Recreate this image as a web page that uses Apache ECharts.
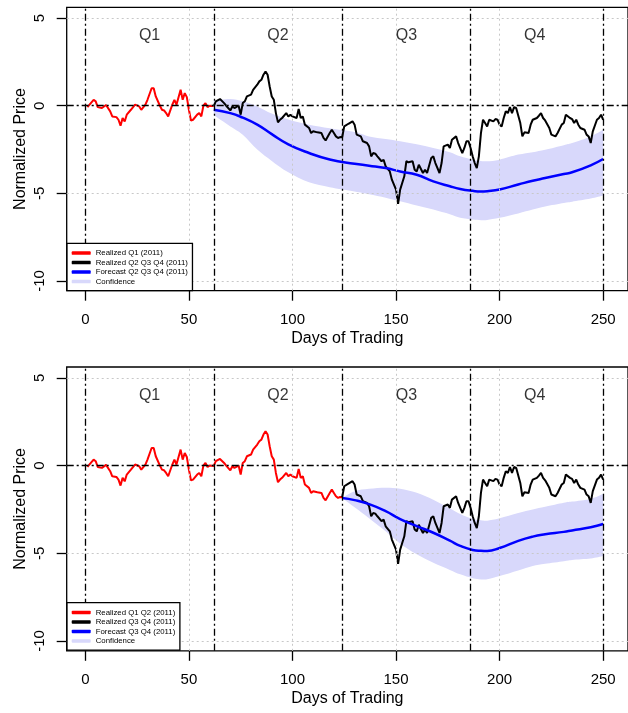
<!DOCTYPE html>
<html><head><meta charset="utf-8">
<script src="https://cdn.jsdelivr.net/npm/echarts@6/dist/echarts.min.js"></script>
<style>html,body{margin:0;padding:0;background:#fff}#c{width:628px;height:713px}</style>
</head><body><div id="c"></div>
<script>
// ---- data ----
const xTicks = [0, 50, 100, 150, 200, 250];
const yTicks = [-10, -5, 0, 5];
const quarterBounds = [0, 62, 124, 186, 250];
const quarterNames = ['Q1', 'Q2', 'Q3', 'Q4'];
const quarterCenters = [31, 93, 155, 217];
const quarterLabelY = 4;

const realDays = [1,4,5,6,8,10,12,13,15,16,17,18,19,20,22,24,26,27,29,30,32,33,34,36,37,38,39,40,42,43,44,45,46,47,48,49,50,51,52,54,55,56,57,58,59,60,62,
  63,65,67,68,70,71,72,74,75,76,77,78,80,81,83,84,85,86,87,88,89,90,91,92,93,94,95,97,98,99,100,102,103,104,105,106,108,109,110,112,114,115,116,118,119,120,121,122,123,124,
  125,127,129,130,131,133,134,136,137,138,139,140,141,143,144,145,147,148,150,151,152,154,155,156,158,159,160,161,163,164,165,167,168,169,171,172,173,175,176,177,179,180,182,183,184,185,186,187,188,189,190,191,192,193,194,195,197,198,199,200,201,202,203,204,205,206,207,208,210,211,212,214,215,216,218,219,220,221,222,224,225,227,228,230,231,232,234,235,236,237,238,239,241,242,243,244,245,247,248,249,250];
const realPrice = [-0.08,0.34,0.25,-0.08,-0.13,0.04,-0.32,-0.61,-0.65,-0.8,-1.14,-0.7,-0.9,-0.51,-0.23,0.06,-0.04,-0.23,0.06,0.34,1.0,1.0,0.53,0,-0.23,-0.27,-0.42,-0.61,0.06,0.34,0.06,0.49,0.91,0.34,0.72,0.49,-0.23,-0.84,-0.8,-0.51,-0.42,-0.61,0,0.15,-0.08,0,-0.02,
  0.25,0.38,0.15,0,-0.27,-0.04,-0.13,0,-0.51,0.15,0.25,0.53,0.63,0.91,1.2,1.39,1.48,1.77,1.96,1.77,1.1,0.53,0.34,-0.42,-0.95,-0.8,-0.7,-0.42,-0.61,-0.51,-0.61,-0.7,-0.19,-0.7,-0.61,-1.08,-1.27,-1.56,-1.46,-1.52,-1.56,-1.84,-1.98,-1.56,-1.37,-1.56,-1.75,-1.84,-1.79,-1.8,
  -1.18,-1.03,-0.89,-1.08,-1.65,-1.75,-2.03,-2.13,-2.32,-2.89,-2.7,-2.74,-2.89,-3.17,-3.08,-3.46,-3.75,-4.22,-4.79,-5.6,-4.79,-4.03,-3.17,-3.23,-3.17,-3.65,-3.75,-3.37,-3.84,-3.65,-3.84,-2.98,-2.89,-3.27,-3.84,-3.27,-2.32,-2.22,-2.41,-1.94,-1.75,-2.13,-2.7,-2.41,-2.03,-2.03,-2.41,-2.89,-3.27,-3.56,-2.89,-1.56,-0.8,-0.99,-1.18,-0.8,-0.89,-0.76,-0.8,-1.08,-1.18,-0.7,-0.32,-0.42,-0.08,-0.42,-0.08,-0.13,-0.99,-1.75,-1.52,-1.56,-1.08,-0.8,-0.7,-0.57,-0.42,-0.7,-0.84,-1.27,-1.65,-1.75,-1.56,-1.08,-0.99,-0.51,-0.7,-0.76,-0.99,-0.8,-1.08,-1.27,-1.37,-1.65,-1.75,-2.13,-1.46,-0.8,-0.7,-0.51,-0.8];

// forecast from end of Q1 (top panel)
const fc1Days  = [62,70,76,83,90,98,108,118,130,137,145,152,160,168,176,181,187,191,194,200,209,216,222,231,235,244,250];
const fc1Mean  = [-0.23,-0.42,-0.68,-1.08,-1.62,-2.2,-2.7,-3.07,-3.31,-3.42,-3.56,-3.75,-3.94,-4.32,-4.6,-4.75,-4.86,-4.9,-4.88,-4.78,-4.5,-4.28,-4.13,-3.9,-3.8,-3.4,-3.04];
const fc1Upper = [0.3,0.38,0.25,-0.04,-0.45,-0.78,-1.08,-1.28,-1.5,-1.75,-1.9,-2.03,-2.2,-2.41,-2.65,-2.89,-3.08,-3.15,-3.17,-3.08,-2.79,-2.65,-2.51,-2.25,-2.13,-1.75,-1.37];
const fc1Lower = [-0.55,-1.18,-1.65,-2.5,-3.15,-3.8,-4.37,-4.65,-4.89,-5.05,-5.25,-5.46,-5.7,-5.93,-6.2,-6.4,-6.5,-6.54,-6.52,-6.4,-6.15,-5.93,-5.75,-5.55,-5.48,-5.3,-5.13];

// forecast from end of Q2 (bottom panel)
const fc2Days  = [124,130,137,145,152,160,168,176,181,187,191,194,200,209,216,222,231,235,244,250];
const fc2Mean  = [-1.85,-1.97,-2.2,-2.6,-3.05,-3.45,-3.83,-4.28,-4.58,-4.81,-4.86,-4.87,-4.7,-4.29,-4.05,-3.92,-3.78,-3.7,-3.52,-3.33];
const fc2Upper = [-1.85,-1.46,-1.32,-1.26,-1.32,-1.55,-1.95,-2.45,-2.76,-3.05,-3.12,-3.14,-3.0,-2.7,-2.5,-2.35,-2.12,-2.05,-1.9,-1.61];
const fc2Lower = [-1.85,-2.38,-3.0,-3.75,-4.45,-5.06,-5.54,-5.95,-6.2,-6.42,-6.49,-6.48,-6.3,-5.98,-5.73,-5.6,-5.45,-5.38,-5.3,-5.16];

const legend1 = ['Realized Q1 (2011)', 'Realized Q2 Q3 Q4 (2011)', 'Forecast Q2 Q3 Q4 (2011)', 'Confidence'];
const legend2 = ['Realized Q1 Q2 (2011)', 'Realized Q3 Q4 (2011)', 'Forecast Q3 Q4 (2011)', 'Confidence'];

// ---- chart ----
const FONT = 'Liberation Sans, Arial, Helvetica, sans-serif';
const RED = '#ff0000', BLACK = '#000000', BLUE = '#0000ff', BAND = '#d8d8fb';
const DASHDOT = [7, 3, 2, 3];

function segment(lo, hi) {
  const out = [];
  for (let i = 0; i < realDays.length; i++) {
    if (realDays[i] >= lo && realDays[i] <= hi) out.push([realDays[i], realPrice[i]]);
  }
  return out;
}
function pairs(xs, ys) { return xs.map((x, i) => [x, ys[i]]); }

const chart = echarts.init(document.getElementById('c'), null, {renderer: 'canvas'});

function makeAxes(idx) {
  return {
    x: {
      type: 'value', gridIndex: idx, min: -9, max: 262,
      axisLine: {show: false, onZero: false},
      axisTick: {show: true, customValues: xTicks, length: 10, lineStyle: {color: '#000', width: 1.3}},
      axisLabel: {customValues: xTicks, margin: 22, fontSize: 15, color: '#000', fontFamily: FONT},
      splitLine: {show: false},
      name: 'Days of Trading', nameLocation: 'middle', nameGap: 40, nameMoveOverlap: false,
      nameTextStyle: {fontSize: 16, color: '#000', fontFamily: FONT}
    },
    y: {
      type: 'value', gridIndex: idx, min: -10.56, max: 5.62,
      axisLine: {show: false, onZero: false},
      axisTick: {show: true, customValues: yTicks, length: 10, lineStyle: {color: '#000', width: 1.3}},
      axisLabel: {customValues: yTicks, margin: 19, fontSize: 15, color: '#000', rotate: 90, fontFamily: FONT},
      splitLine: {show: false},
      name: 'Normalized Price', nameLocation: 'middle', nameGap: 38, nameMoveOverlap: false,
      nameTextStyle: {fontSize: 16, color: '#000', fontFamily: FONT}
    }
  };
}
const a1 = makeAxes(0), a2 = makeAxes(1);

function gridMarkLines() {
  const data = [];
  xTicks.forEach(v => data.push({xAxis: v, lineStyle: {color: '#c8c8c8', type: [2, 3], width: 1}}));
  yTicks.forEach(v => data.push({yAxis: v, lineStyle: {color: '#c8c8c8', type: [2, 3], width: 1}}));
  quarterBounds.forEach(v => data.push({xAxis: v, lineStyle: {color: '#000', type: DASHDOT, width: 1.3}}));
  data.push({yAxis: 0, lineStyle: {color: '#000', type: DASHDOT, width: 1.3}});
  return {silent: true, symbol: 'none', label: {show: false}, animation: false, data: data};
}

// smooth open path through pixel points (Catmull-Rom -> cubic Bezier)
function smoothPath(pts, moveFirst) {
  let d = (moveFirst ? 'M' : 'L') + pts[0][0] + ' ' + pts[0][1];
  for (let i = 0; i < pts.length - 1; i++) {
    const p0 = pts[Math.max(i - 1, 0)], p1 = pts[i], p2 = pts[i + 1], p3 = pts[Math.min(i + 2, pts.length - 1)];
    const c1x = p1[0] + (p2[0] - p0[0]) / 6, c1y = p1[1] + (p2[1] - p0[1]) / 6;
    const c2x = p2[0] - (p3[0] - p1[0]) / 6, c2y = p2[1] - (p3[1] - p1[1]) / 6;
    d += ' C' + c1x + ' ' + c1y + ' ' + c2x + ' ' + c2y + ' ' + p2[0] + ' ' + p2[1];
  }
  return d;
}

function bandSeries(idx, days, lower, upper) {
  return {
    type: 'custom', xAxisIndex: idx, yAxisIndex: idx, name: 'Confidence', silent: true, z: 1,
    itemStyle: {color: BAND},
    data: days.map((d, i) => [d, lower[i], upper[i]]),
    encode: {x: 0, y: [1, 2]},
    renderItem: function (params, api) {
      if (params.dataIndex !== 0) return null;
      const up = days.map((d, i) => api.coord([d, upper[i]]));
      const lo = days.map((d, i) => api.coord([d, lower[i]])).reverse();
      const path = smoothPath(up, true) + ' ' + smoothPath(lo, false) + ' Z';
      return {type: 'path', shape: {pathData: path}, style: {fill: BAND, stroke: null}};
    }
  };
}

function quarterLabels(idx) {
  return {
    type: 'scatter', xAxisIndex: idx, yAxisIndex: idx, symbolSize: 0, silent: true, z: 5,
    data: quarterNames.map((n, i) => ({name: n, value: [quarterCenters[i], quarterLabelY]})),
    label: {show: true, position: 'inside', formatter: '{b}', fontSize: 16, color: '#000', fontFamily: FONT}
  };
}

function lineSeries(idx, name, data, color, width, withMarks, smooth) {
  const s = {type: 'line', xAxisIndex: idx, yAxisIndex: idx, name: name, data: data, symbol: 'none',
    smooth: !!smooth, lineStyle: {color: color, width: width}, itemStyle: {color: color}, z: 4, silent: true};
  if (withMarks) { s.markLine = gridMarkLines(); }
  return s;
}

function legendFor(names, top, colors) {
  return {
    show: true, orient: 'vertical', left: 67, top: top, selectedMode: false,
    padding: [5, 4.6, 4.4, 4.7], itemGap: 0, itemWidth: 19, itemHeight: 3.5,
    backgroundColor: '#fff', borderColor: '#000', borderWidth: 1.3, borderRadius: 0,
    textStyle: {fontSize: 7.8, color: '#000', fontFamily: FONT, lineHeight: 9.5},
    data: names.map((n, i) => ({name: n, icon: 'roundRect', itemStyle: {color: colors[i]}})),
    z: 10
  };
}

const option = {
  animation: false,
  backgroundColor: '#fff',
  grid: [
    {left: 66.7, top: 7.3, width: 571, height: 283.4, show: true, borderColor: '#000', borderWidth: 1.3, backgroundColor: 'rgba(0,0,0,0)'},
    {left: 66.7, top: 367, width: 571, height: 283.8, show: true, borderColor: '#000', borderWidth: 1.3, backgroundColor: 'rgba(0,0,0,0)'}
  ],
  xAxis: [a1.x, a2.x],
  yAxis: [a1.y, a2.y],
  legend: [
    legendFor(legend1, 243.3, [RED, BLACK, BLUE, BAND]),
    legendFor(legend2, 602.7, [RED, BLACK, BLUE, BAND])
  ],
  series: [
    bandSeries(0, fc1Days, fc1Lower, fc1Upper),
    lineSeries(0, legend1[0], segment(0, 62), RED, 2, true),
    lineSeries(0, legend1[1], segment(62, 250), BLACK, 2, false),
    lineSeries(0, legend1[2], pairs(fc1Days, fc1Mean), BLUE, 2.5, false, true),
    quarterLabels(0),
    bandSeries(1, fc2Days, fc2Lower, fc2Upper),
    lineSeries(1, legend2[0], segment(0, 124), RED, 2, true),
    lineSeries(1, legend2[1], segment(124, 250), BLACK, 2, false),
    lineSeries(1, legend2[2], pairs(fc2Days, fc2Mean), BLUE, 2.5, false, true),
    quarterLabels(1)
  ]
};
chart.setOption(option);
</script></body></html>
